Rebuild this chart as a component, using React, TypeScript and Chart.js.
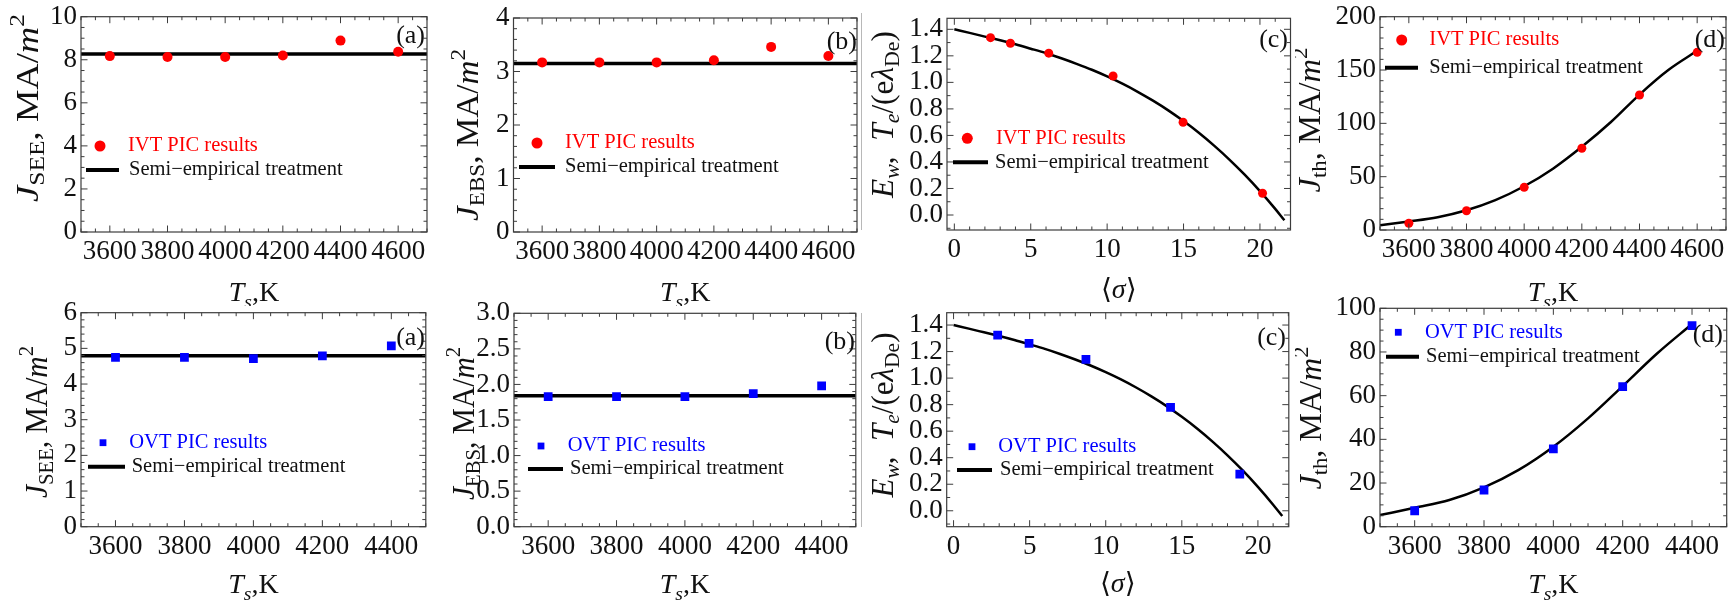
import React, { useEffect, useRef } from 'react';
import { Chart, registerables } from 'chart.js';

Chart.register(...registerables);

// ---------------- data ----------------
const tempsIVT = [3600, 3800, 4000, 4200, 4400, 4600];
const tempsOVT = [3600, 3800, 4000, 4200, 4400];

const seeIVT = [8.17, 8.13, 8.13, 8.2, 8.89, 8.37];
const seeIVTModel = 8.27;
const ebsIVT = [3.17, 3.17, 3.17, 3.21, 3.46, 3.29];
const ebsIVTModel = 3.15;
const sigmaIVT = [2.37, 3.67, 6.18, 10.39, 14.97, 20.17];
const ewIVT = [1.337, 1.295, 1.22, 1.048, 0.699, 0.164];
const thIVT = [6.3, 18.1, 40, 76.6, 126.6, 166.6];

const seeOVT = [4.75, 4.75, 4.71, 4.79, 5.07];
const seeOVTModel = 4.79;
const ebsOVT = [1.83, 1.83, 1.83, 1.87, 1.98];
const ebsOVTModel = 1.84;
const sigmaOVT = [2.9, 4.96, 8.7, 14.26, 18.81];
const ewOVT = [1.324, 1.262, 1.141, 0.779, 0.276];
const thOVT = [7.3, 16.8, 35.6, 64.1, 92.1];

// semi-empirical curves
const sigmaModel = [0, 1, 2, 3, 4, 5, 6, 7, 8, 9, 10, 11, 12, 13, 14, 15, 16, 17, 18, 19, 20, 21, 21.6];
const ewModel = [1.4, 1.373, 1.345, 1.317, 1.287, 1.254, 1.22, 1.182, 1.14, 1.095, 1.045, 0.99, 0.929, 0.862, 0.789, 0.708, 0.62, 0.523, 0.418, 0.304, 0.18, 0.046, -0.04];
const tempModelIVT = [3500, 3600, 3700, 3800, 3900, 4000, 4100, 4200, 4300, 4400, 4500, 4600];
const thModelIVT = [4.5, 8, 12, 18.5, 28, 41, 57.5, 78, 101, 127, 150, 168];
const tempModelOVT = [3500, 3600, 3700, 3800, 3900, 4000, 4100, 4200, 4300, 4400];
const thModelOVT = [5.3, 8.7, 12.2, 18, 26, 36.6, 49.6, 64.4, 79.4, 92.8];
const flatSpanTop = [3500, 4700];
const flatSpanBottom = [3500, 4500];

// tick values
const tempTicksTop = [3600, 3800, 4000, 4200, 4400, 4600];
const tempTicksBottom = [3600, 3800, 4000, 4200, 4400];
const sigmaTicks = [0, 5, 10, 15, 20];
const seeTicksTop = [0, 2, 4, 6, 8, 10];
const ebsTicksTop = [0, 1, 2, 3, 4];
const ewTicks = [0, 0.2, 0.4, 0.6, 0.8, 1.0, 1.2, 1.4];
const thTicksTop = [0, 50, 100, 150, 200];
const seeTicksBottom = [0, 1, 2, 3, 4, 5, 6];
const ebsTicksBottom = [0, 0.5, 1.0, 1.5, 2.0, 2.5, 3.0];
const thTicksBottom = [0, 20, 40, 60, 80, 100];

const legendIVT = 'IVT PIC results';
const legendOVT = 'OVT PIC results';
const legendModel = 'Semi\u2212empirical treatment';

// ---------------- styling helpers ----------------
const FAMILY = "'Liberation Serif', 'DejaVu Serif', serif";
const RED = '#ff0000';
const BLUE = '#0000ff';

Chart.defaults.font.family = FAMILY;

type Seg = { t: string; it?: boolean; sub?: boolean; sup?: boolean };
const titleJ = (sub: string): Seg[] => [
  { t: 'J', it: true },
  { t: sub, sub: true },
  { t: ', MA/' },
  { t: 'm', it: true },
  { t: '2', sup: true },
];
const titleE: Seg[] = [
  { t: 'E', it: true },
  { t: 'w', it: true, sub: true },
  { t: ',  ' },
  { t: 'T', it: true },
  { t: 'e', it: true, sub: true },
  { t: '/(e' },
  { t: '\u03bb', it: true },
  { t: 'De', sub: true },
  { t: ')' },
];
const titleTs: Seg[] = [{ t: 'T', it: true }, { t: 's', it: true, sub: true }, { t: ',K' }];
const titleSigma: Seg[] = [{ t: '\u27e8' }, { t: '\u03c3', it: true }, { t: '\u27e9' }];

function segFont(s: Seg, size: number) {
  const sz = s.sub || s.sup ? size * 0.7 : size;
  return `${s.it ? 'italic ' : ''}${sz}px ${FAMILY}`;
}
function richWidth(ctx: CanvasRenderingContext2D, segs: Seg[], size: number) {
  let w = 0;
  for (const s of segs) {
    ctx.font = segFont(s, size);
    w += ctx.measureText(s.t).width;
  }
  return w;
}
function drawRich(ctx: CanvasRenderingContext2D, segs: Seg[], size: number, x: number, y: number, subShift: number) {
  let cx = x;
  ctx.textBaseline = 'alphabetic';
  ctx.textAlign = 'left';
  for (const s of segs) {
    ctx.font = segFont(s, size);
    const dy = s.sub ? size * subShift : s.sup ? -size * 0.42 : 0;
    ctx.fillText(s.t, cx, y + dy);
    cx += ctx.measureText(s.t).width;
  }
}

type Legend = {
  kind: 'circle' | 'rect';
  color: string;
  label: string;
  marker: [number, number];
  text: [number, number];
  line: [number, number, number];
  text2: [number, number];
};

type Panel = {
  canvas: { x: number; y: number; w: number; h: number };
  area: { l: number; t: number; r: number; b: number };
  xr: [number, number];
  yr: [number, number];
  xTicks: number[];
  yTicks: number[];
  xMinor: number;
  yMinor: number;
  yDec: number;
  model: { xs: number[]; ys: number[]; width: number };
  pts: { xs: number[]; ys: number[]; kind: 'circle' | 'rect'; r: number; color: string };
  yTitle: Seg[];
  yTitleAt: { x: number; cy: number; len: number };
  xTitle: Seg[];
  xTitleBase: number;
  legend: Legend;
  tag: string;
  tagAt: [number, number];
};

const flat = (span: number[], v: number) => span.map(() => v);

const panels: Panel[] = [
  {
    canvas: { x: 0, y: 0, w: 432, h: 306 },
    area: { l: 81, t: 16.7, r: 428, b: 232 },
    xr: [3500, 4700], yr: [0, 10],
    xTicks: tempTicksTop, yTicks: seeTicksTop, xMinor: 50, yMinor: 0.5, yDec: 0,
    model: { xs: flatSpanTop, ys: flat(flatSpanTop, seeIVTModel), width: 3.5 },
    pts: { xs: tempsIVT, ys: seeIVT, kind: 'circle', r: 5, color: RED },
    yTitle: titleJ('SEE'), yTitleAt: { x: 37.5, cy: 108, len: 188 },
    xTitle: titleTs, xTitleBase: 301,
    legend: { kind: 'circle', color: RED, label: legendIVT, marker: [100, 146], text: [128, 146], line: [86, 119, 170], text2: [129, 170] },
    tag: '(a)', tagAt: [425, 36],
  },
  {
    canvas: { x: 430, y: 0, w: 432, h: 306 },
    area: { l: 513.5, t: 18, r: 859, b: 232 },
    xr: [3500, 4700], yr: [0, 4],
    xTicks: tempTicksTop, yTicks: ebsTicksTop, xMinor: 50, yMinor: 0.2, yDec: 0,
    model: { xs: flatSpanTop, ys: flat(flatSpanTop, ebsIVTModel), width: 3.5 },
    pts: { xs: tempsIVT, ys: ebsIVT, kind: 'circle', r: 5, color: RED },
    yTitle: titleJ('EBS'), yTitleAt: { x: 478, cy: 135, len: 172 },
    xTitle: titleTs, xTitleBase: 301,
    legend: { kind: 'circle', color: RED, label: legendIVT, marker: [537, 143], text: [565, 143], line: [519, 555, 167], text2: [565, 167] },
    tag: '(b)', tagAt: [857, 42],
  },
  {
    canvas: { x: 862, y: 0, w: 433, h: 306 },
    area: { l: 947, t: 18.3, r: 1293, b: 230 },
    xr: [-0.48, 22.0], yr: [-0.113, 1.483],
    xTicks: sigmaTicks, yTicks: ewTicks, xMinor: 1, yMinor: 0.1, yDec: 1,
    model: { xs: sigmaModel, ys: ewModel, width: 2.5 },
    pts: { xs: sigmaIVT, ys: ewIVT, kind: 'circle', r: 4.5, color: RED },
    yTitle: titleE, yTitleAt: { x: 893, cy: 114.5, len: 167 },
    xTitle: titleSigma, xTitleBase: 298,
    legend: { kind: 'circle', color: RED, label: legendIVT, marker: [967.3, 138.3], text: [996, 138.3], line: [953, 988, 162.3], text2: [995, 162.3] },
    tag: '(c)', tagAt: [1288, 40],
  },
  {
    canvas: { x: 1295, y: 0, w: 438, h: 306 },
    area: { l: 1380, t: 16.7, r: 1726, b: 230 },
    xr: [3500, 4700], yr: [0, 200],
    xTicks: tempTicksTop, yTicks: thTicksTop, xMinor: 50, yMinor: 10, yDec: 0,
    model: { xs: tempModelIVT, ys: thModelIVT, width: 2.5 },
    pts: { xs: tempsIVT, ys: thIVT, kind: 'circle', r: 4.5, color: RED },
    yTitle: titleJ('th'), yTitleAt: { x: 1320, cy: 120, len: 145 },
    xTitle: titleTs, xTitleBase: 301,
    legend: { kind: 'circle', color: RED, label: legendIVT, marker: [1401.7, 40], text: [1429.3, 40], line: [1385, 1418, 67.7], text2: [1429.3, 67.7] },
    tag: '(d)', tagAt: [1725, 40],
  },
  {
    canvas: { x: 0, y: 290, w: 432, h: 310 },
    area: { l: 81, t: 312.7, r: 427.7, b: 526.7 },
    xr: [3500, 4500], yr: [0, 6],
    xTicks: tempTicksBottom, yTicks: seeTicksBottom, xMinor: 50, yMinor: 0.2, yDec: 0,
    model: { xs: flatSpanBottom, ys: flat(flatSpanBottom, seeOVTModel), width: 3.5 },
    pts: { xs: tempsOVT, ys: seeOVT, kind: 'rect', r: 6.2, color: BLUE },
    yTitle: titleJ('SEE'), yTitleAt: { x: 46.5, cy: 422, len: 152 },
    xTitle: titleTs, xTitleBase: 593,
    legend: { kind: 'rect', color: BLUE, label: legendOVT, marker: [103, 442.7], text: [129.3, 442.7], line: [88, 125, 466.7], text2: [131.7, 466.7] },
    tag: '(a)', tagAt: [425, 338],
  },
  {
    canvas: { x: 430, y: 290, w: 432, h: 310 },
    area: { l: 514, t: 313.3, r: 859, b: 526.7 },
    xr: [3500, 4500], yr: [0, 3],
    xTicks: tempTicksBottom, yTicks: ebsTicksBottom, xMinor: 50, yMinor: 0.1, yDec: 1,
    model: { xs: flatSpanBottom, ys: flat(flatSpanBottom, ebsOVTModel), width: 3.5 },
    pts: { xs: tempsOVT, ys: ebsOVT, kind: 'rect', r: 6.2, color: BLUE },
    yTitle: titleJ('EBS'), yTitleAt: { x: 473.5, cy: 423.5, len: 153 },
    xTitle: titleTs, xTitleBase: 593,
    legend: { kind: 'rect', color: BLUE, label: legendOVT, marker: [541, 446], text: [567.7, 446], line: [528, 563, 469], text2: [570, 469] },
    tag: '(b)', tagAt: [855, 341.7],
  },
  {
    canvas: { x: 862, y: 290, w: 433, h: 310 },
    area: { l: 946.7, t: 312.7, r: 1293, b: 526.7 },
    xr: [-0.45, 22.03], yr: [-0.12, 1.493],
    xTicks: sigmaTicks, yTicks: ewTicks, xMinor: 1, yMinor: 0.1, yDec: 1,
    model: { xs: sigmaModel, ys: ewModel, width: 2.5 },
    pts: { xs: sigmaOVT, ys: ewOVT, kind: 'rect', r: 6.2, color: BLUE },
    yTitle: titleE, yTitleAt: { x: 893, cy: 415, len: 165 },
    xTitle: titleSigma, xTitleBase: 592,
    legend: { kind: 'rect', color: BLUE, label: legendOVT, marker: [972, 446.7], text: [998.3, 446.7], line: [957, 992, 470], text2: [1000, 470] },
    tag: '(c)', tagAt: [1286, 338],
  },
  {
    canvas: { x: 1295, y: 290, w: 438, h: 310 },
    area: { l: 1380, t: 308.3, r: 1726.7, b: 526.7 },
    xr: [3500, 4500], yr: [0, 100],
    xTicks: tempTicksBottom, yTicks: thTicksBottom, xMinor: 50, yMinor: 5, yDec: 0,
    model: { xs: tempModelOVT, ys: thModelOVT, width: 2.5 },
    pts: { xs: tempsOVT, ys: thOVT, kind: 'rect', r: 6.2, color: BLUE },
    yTitle: titleJ('th'), yTitleAt: { x: 1321, cy: 418, len: 143 },
    xTitle: titleTs, xTitleBase: 593,
    legend: { kind: 'rect', color: BLUE, label: legendOVT, marker: [1398.3, 332.3], text: [1425, 332.3], line: [1386, 1419, 356.7], text2: [1426, 356.7] },
    tag: '(d)', tagAt: [1723, 335],
  },
];

// ---------------- decoration plugin ----------------
function decorPlugin(p: Panel) {
  return {
    id: 'decor',
    afterDraw(chart: any) {
      const ctx: CanvasRenderingContext2D = chart.ctx;
      const a = chart.chartArea;
      const xs = chart.scales.x;
      const ys = chart.scales.y;
      const ox = p.canvas.x;
      const oy = p.canvas.y;
      ctx.save();

      // frame
      ctx.strokeStyle = '#3c3c3c';
      ctx.lineWidth = 1.2;
      ctx.strokeRect(a.left, a.top, a.right - a.left, a.bottom - a.top);

      // inward ticks on all four sides
      ctx.lineWidth = 1;
      ctx.beginPath();
      const k0x = Math.ceil(p.xr[0] / p.xMinor - 1e-9);
      const k1x = Math.floor(p.xr[1] / p.xMinor + 1e-9);
      for (let k = k0x; k <= k1x; k++) {
        const v = k * p.xMinor;
        const major = p.xTicks.some((t) => Math.abs(t - v) < p.xMinor * 1e-3);
        const len = major ? 6.5 : 3.5;
        const px = xs.getPixelForValue(v);
        ctx.moveTo(px, a.bottom);
        ctx.lineTo(px, a.bottom - len);
        ctx.moveTo(px, a.top);
        ctx.lineTo(px, a.top + len);
      }
      const k0y = Math.ceil(p.yr[0] / p.yMinor - 1e-9);
      const k1y = Math.floor(p.yr[1] / p.yMinor + 1e-9);
      for (let k = k0y; k <= k1y; k++) {
        const v = k * p.yMinor;
        const major = p.yTicks.some((t) => Math.abs(t - v) < p.yMinor * 1e-3);
        const len = major ? 6.5 : 3.5;
        const py = ys.getPixelForValue(v);
        ctx.moveTo(a.left, py);
        ctx.lineTo(a.left + len, py);
        ctx.moveTo(a.right, py);
        ctx.lineTo(a.right - len, py);
      }
      ctx.stroke();

      // legend
      const L = p.legend;
      ctx.fillStyle = L.color;
      const mx = L.marker[0] - ox;
      const my = L.marker[1] - oy;
      if (L.kind === 'circle') {
        ctx.beginPath();
        ctx.arc(mx, my, 5.5, 0, Math.PI * 2);
        ctx.fill();
      } else {
        ctx.fillRect(mx - 3.4, my - 3.4, 6.8, 6.8);
      }
      ctx.font = `20.5px ${FAMILY}`;
      ctx.textAlign = 'left';
      ctx.textBaseline = 'middle';
      ctx.fillText(L.label, L.text[0] - ox, L.text[1] - oy);
      ctx.strokeStyle = '#000';
      ctx.lineWidth = 4;
      ctx.beginPath();
      ctx.moveTo(L.line[0] - ox, L.line[2] - oy);
      ctx.lineTo(L.line[1] - ox, L.line[2] - oy);
      ctx.stroke();
      ctx.fillStyle = '#111';
      ctx.fillText(legendModel, L.text2[0] - ox, L.text2[1] - oy);

      // panel tag
      ctx.font = `26px ${FAMILY}`;
      ctx.textAlign = 'right';
      ctx.fillStyle = '#111';
      ctx.fillText(p.tag, p.tagAt[0] - ox, p.tagAt[1] - oy);

      // x title
      ctx.fillStyle = '#111';
      const xw = richWidth(ctx, p.xTitle, 28);
      drawRich(ctx, p.xTitle, 28, (a.left + a.right) / 2 - xw / 2, p.xTitleBase - oy, 0.24);

      // y title (rotated)
      const yw = richWidth(ctx, p.yTitle, 31);
      ctx.save();
      ctx.translate(p.yTitleAt.x - ox, p.yTitleAt.cy - oy);
      ctx.rotate(-Math.PI / 2);
      ctx.scale(p.yTitleAt.len / yw, 1);
      drawRich(ctx, p.yTitle, 31, -yw / 2, 0, 0.2);
      ctx.restore();

      ctx.restore();
    },
  };
}

function buildConfig(p: Panel): any {
  const c = p.canvas;
  const yWidth = p.area.l - c.x;
  const xHeight = 40;
  const padTop = p.area.t - c.y;
  const padRight = c.x + c.w - p.area.r;
  const padBottom = c.y + c.h - p.area.b - xHeight;
  return {
    type: 'scatter',
    data: {
      datasets: [
        {
          label: legendModel,
          data: p.model.xs.map((x, i) => ({ x, y: p.model.ys[i] })),
          showLine: true,
          borderColor: '#000',
          borderWidth: p.model.width,
          pointRadius: 0,
          tension: 0.4,
          cubicInterpolationMode: 'monotone',
          fill: false,
          order: 2,
        },
        {
          label: p.legend.label,
          data: p.pts.xs.map((x, i) => ({ x, y: p.pts.ys[i] })),
          showLine: false,
          pointStyle: p.pts.kind,
          pointRadius: p.pts.r,
          pointBackgroundColor: p.pts.color,
          pointBorderColor: p.pts.color,
          pointBorderWidth: 0,
          order: 1,
        },
      ],
    },
    options: {
      responsive: false,
      maintainAspectRatio: false,
      animation: false,
      events: [],
      layout: { padding: { left: 0, top: padTop, right: padRight, bottom: padBottom } },
      plugins: { legend: { display: false }, tooltip: { enabled: false }, title: { display: false } },
      scales: {
        x: {
          type: 'linear',
          position: 'bottom',
          min: p.xr[0],
          max: p.xr[1],
          grid: { display: false, drawTicks: false },
          border: { display: false },
          ticks: {
            autoSkip: false,
            maxRotation: 0,
            minRotation: 0,
            padding: 4,
            color: '#111',
            font: { family: FAMILY, size: 27, lineHeight: 1.2 },
            callback: (v: any) => String(v),
          },
          afterBuildTicks: (s: any) => {
            s.ticks = p.xTicks.map((v) => ({ value: v }));
          },
          afterFit: (s: any) => {
            s.height = xHeight;
          },
        },
        y: {
          type: 'linear',
          position: 'left',
          min: p.yr[0],
          max: p.yr[1],
          grid: { display: false, drawTicks: false },
          border: { display: false },
          ticks: {
            autoSkip: false,
            padding: 4,
            color: '#111',
            font: { family: FAMILY, size: 27, lineHeight: 0.6 },
            callback: (v: any) => Number(v).toFixed(p.yDec),
          },
          afterBuildTicks: (s: any) => {
            s.ticks = p.yTicks.map((v) => ({ value: v }));
          },
          afterFit: (s: any) => {
            s.width = yWidth;
          },
        },
      },
    },
    plugins: [decorPlugin(p)],
  };
}

function PanelChart({ p }: { p: Panel }) {
  const ref = useRef<HTMLCanvasElement>(null);
  useEffect(() => {
    if (!ref.current) return;
    const chart = new Chart(ref.current, buildConfig(p));
    return () => chart.destroy();
  }, [p]);
  return (
    <canvas
      ref={ref}
      width={p.canvas.w}
      height={p.canvas.h}
      style={{ position: 'absolute', left: p.canvas.x, top: p.canvas.y, width: p.canvas.w, height: p.canvas.h }}
    />
  );
}

export default function App() {
  return (
    <div style={{ position: 'fixed', left: 0, top: 0, width: 1733, height: 600, background: '#fff', overflow: 'hidden' }}>
      <div style={{ position: 'absolute', left: 861, top: 13, width: 1, height: 217, background: '#b8b8b8' }} />
      <div style={{ position: 'absolute', left: 861, top: 313, width: 1, height: 214, background: '#b8b8b8' }} />
      {panels.map((p, i) => (
        <PanelChart key={i} p={p} />
      ))}
    </div>
  );
}
